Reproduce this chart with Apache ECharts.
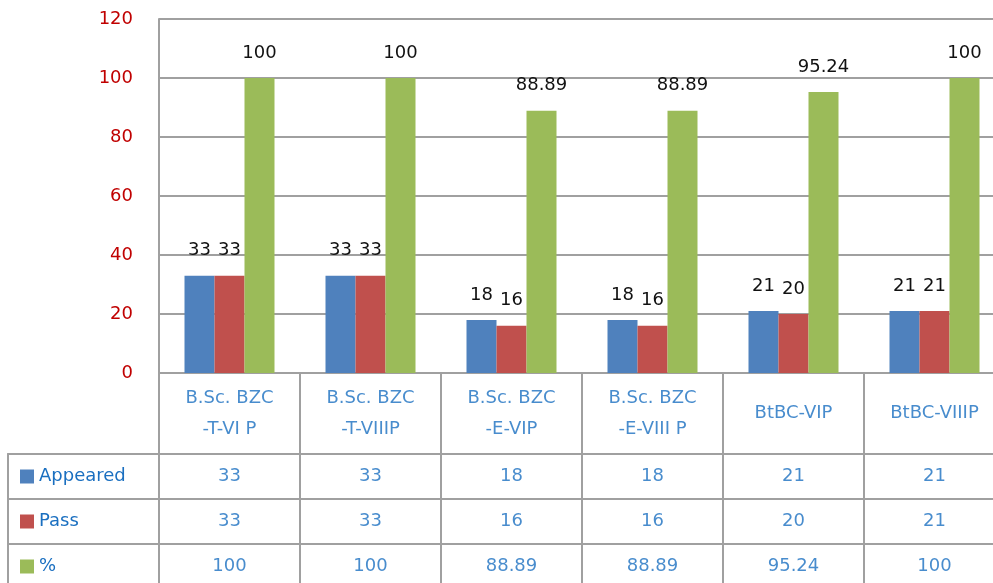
<!DOCTYPE html>
<html>
<head>
<meta charset="utf-8">
<script src="https://cdn.jsdelivr.net/npm/echarts@6/dist/echarts.min.js"></script>
<style>
  html, body { margin: 0; padding: 0; background: #fff; }
  #chart { width: 993px; height: 583px; }
</style>
</head>
<body>
<div id="chart"></div>
<script>
var categories = ['B.Sc. BZC\n-T-VI P', 'B.Sc. BZC\n-T-VIIIP', 'B.Sc. BZC\n-E-VIP', 'B.Sc. BZC\n-E-VIII P', 'BtBC-VIP', 'BtBC-VIIIP'];
var appeared = [33, 33, 18, 18, 21, 21];
var pass = [33, 33, 16, 16, 20, 21];
var percent = [100, 100, 88.89, 88.89, 95.24, 100];
var rowNames = ['Appeared', 'Pass', '%'];
var colors = ['#4f81bd', '#c0504d', '#9bbb59'];
var yTicks = { min: 0, max: 120, interval: 20 };

var lineColor = '#a0a0a0';
var textBlue = '#1a6fc0';
var font = 'DejaVu Sans';

var myChart = echarts.init(document.getElementById('chart'));

function barSeries(name, data, color) {
    return {
        name: name,
        type: 'bar',
        xAxisIndex: 0,
        yAxisIndex: 0,
        data: data,
        barWidth: 30,
        barGap: '0%',
        itemStyle: { color: color },
        label: {
            show: true,
            position: 'top',
            distance: 16,
            color: '#111',
            fontFamily: font,
            fontSize: 18
        }
    };
}

function textSeries(xi, yi, data) {
    return {
        type: 'scatter',
        xAxisIndex: xi,
        yAxisIndex: yi,
        data: data,
        symbolSize: 1,
        itemStyle: { color: 'transparent' },
        silent: true,
        label: {
            show: true,
            position: 'inside',
            color: textBlue,
            fontFamily: font,
            fontSize: 18,
            lineHeight: 31,
            formatter: function (p) { return p.data[2]; }
        }
    };
}

var tableRows = [appeared, pass, percent];
var rowSeries = tableRows.map(function (vals, r) {
    return textSeries(2, 2, vals.map(function (v, i) { return [i, r, String(v)]; }));
});

var rich = { t: { color: textBlue, fontFamily: font, fontSize: 18, padding: [0, 0, 0, 5] } };
colors.forEach(function (c, i) {
    rich['s' + i] = { width: 14, height: 14, backgroundColor: c };
});

var line = { show: true, lineStyle: { color: lineColor, width: 2 } };
var split = { show: true, interval: 0, lineStyle: { color: lineColor, width: 2 } };

var option = {
    animation: false,
    textStyle: { fontFamily: font },
    grid: [
        { left: 159, top: 19, width: 846, height: 354, outerBoundsMode: 'none' },
        { left: 159, top: 373, width: 846, height: 81, outerBoundsMode: 'none' },
        { left: 159, top: 454, width: 846, height: 135, outerBoundsMode: 'none' },
        { left: 8, top: 454, width: 151, height: 135, outerBoundsMode: 'none' }
    ],
    xAxis: [
        {
            gridIndex: 0, type: 'category', data: categories,
            axisLine: line, axisTick: { show: false }, axisLabel: { show: false }
        },
        {
            gridIndex: 1, type: 'category', data: categories,
            axisLine: line, axisTick: { show: false }, axisLabel: { show: false },
            splitLine: split
        },
        {
            gridIndex: 2, type: 'category', data: categories, position: 'top',
            axisLine: line, axisTick: { show: false }, axisLabel: { show: false },
            splitLine: split
        },
        {
            gridIndex: 3, type: 'value', min: 0, max: 1, position: 'top',
            axisLine: line, axisTick: { show: false }, axisLabel: { show: false },
            splitLine: { show: false }
        }
    ],
    yAxis: [
        {
            gridIndex: 0, type: 'value', min: yTicks.min, max: yTicks.max, interval: yTicks.interval,
            axisLine: line, axisTick: { show: false },
            splitLine: { lineStyle: { color: lineColor, width: 2 } },
            axisLabel: { color: '#c00000', fontFamily: font, fontSize: 18, margin: 26 }
        },
        {
            gridIndex: 1, type: 'value', min: 0, max: 1,
            axisLine: line, axisTick: { show: false }, axisLabel: { show: false },
            splitLine: { show: false }
        },
        {
            gridIndex: 2, type: 'category', data: rowNames, inverse: true,
            axisLine: line, axisTick: { show: false }, axisLabel: { show: false },
            splitLine: split
        },
        {
            gridIndex: 3, type: 'category', data: rowNames, inverse: true,
            axisLine: line, axisTick: { show: false },
            splitLine: split,
            axisLabel: {
                inside: true, margin: 12,
                formatter: function (v, idx) { return '{s' + idx + '|}{t|' + v + '}'; },
                rich: rich
            }
        }
    ],
    series: [
        barSeries('Appeared', appeared, colors[0]),
        barSeries('Pass', pass, colors[1]),
        barSeries('%', percent, colors[2]),
        textSeries(1, 1, categories.map(function (c, i) { return [i, 0.5, c]; }))
    ].concat(rowSeries)
};

myChart.setOption(option);
</script>
</body>
</html>
